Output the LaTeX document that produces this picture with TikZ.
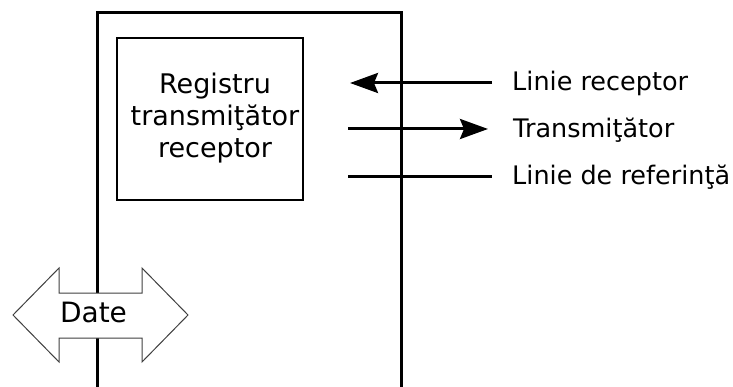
\documentclass[tikz,border=0pt]{standalone}
\usepackage{fontspec}
\setmainfont{DejaVu Sans}
\usetikzlibrary{arrows.meta}
\begin{document}
\begin{tikzpicture}[x=1pt,y=-1pt,
  heavy/.style={line width=3pt},
  headtip/.style={-{Stealth[length=28pt,width=20pt,inset=4pt]}},
  lbl/.style={anchor=base west, inner sep=0pt, font=\fontsize{25.5}{30}\selectfont},
  regbox/.style={draw, line width=1.4pt, minimum width=186pt, minimum height=162pt, inner sep=0pt},
  regtext/.style={align=center, inner sep=0pt, anchor=north, font=\fontsize{27}{32}\selectfont},
  datearrow/.style={fill=white, draw=black!75, line width=1pt, line join=miter}]
\useasboundingbox (0,0) rectangle (733,387);
% outer frame
\coordinate (fbl) at (97,387);
\coordinate (ftl) at (97,13);
\coordinate (ftr) at (401,13);
\coordinate (fbr) at (401,387);
\draw[heavy, line join=miter] (fbl) -- (ftl) -- (ftr) -- (fbr);
% inner register box
\node[regbox] (reg) at (210,119) {};
\node[regtext] (regtxt) at (215,72.5) {Registru\\transmiţător\\receptor};
% labels
\node[lbl] (lrec) at (512,91) {Linie receptor};
\node[lbl] (ltr) at (513,138) {Transmiţător};
\node[lbl] (lref) at (512,185) {Linie de referinţă};
% connectors
\coordinate (a1) at (492,83);
\coordinate (b1) at (350,83);
\coordinate (a2) at (348,129);
\coordinate (b2) at (488,129);
\coordinate (a3) at (348,177);
\coordinate (b3) at (492,177);
\draw[heavy, headtip] (a1) -- (b1);
\draw[heavy, headtip] (a2) -- (b2);
\draw[heavy] (a3) -- (b3);
% Date double arrow
\draw[datearrow] (13,315) -- (59,268) -- (59,293) -- (142,293) -- (142,268) -- (188,315)
  -- (142,362) -- (142,338) -- (59,338) -- (59,362) -- cycle;
\node[anchor=base, inner sep=0pt, font=\fontsize{28}{32}\selectfont] (date) at (93.5,322) {Date};
\end{tikzpicture}
\end{document}
